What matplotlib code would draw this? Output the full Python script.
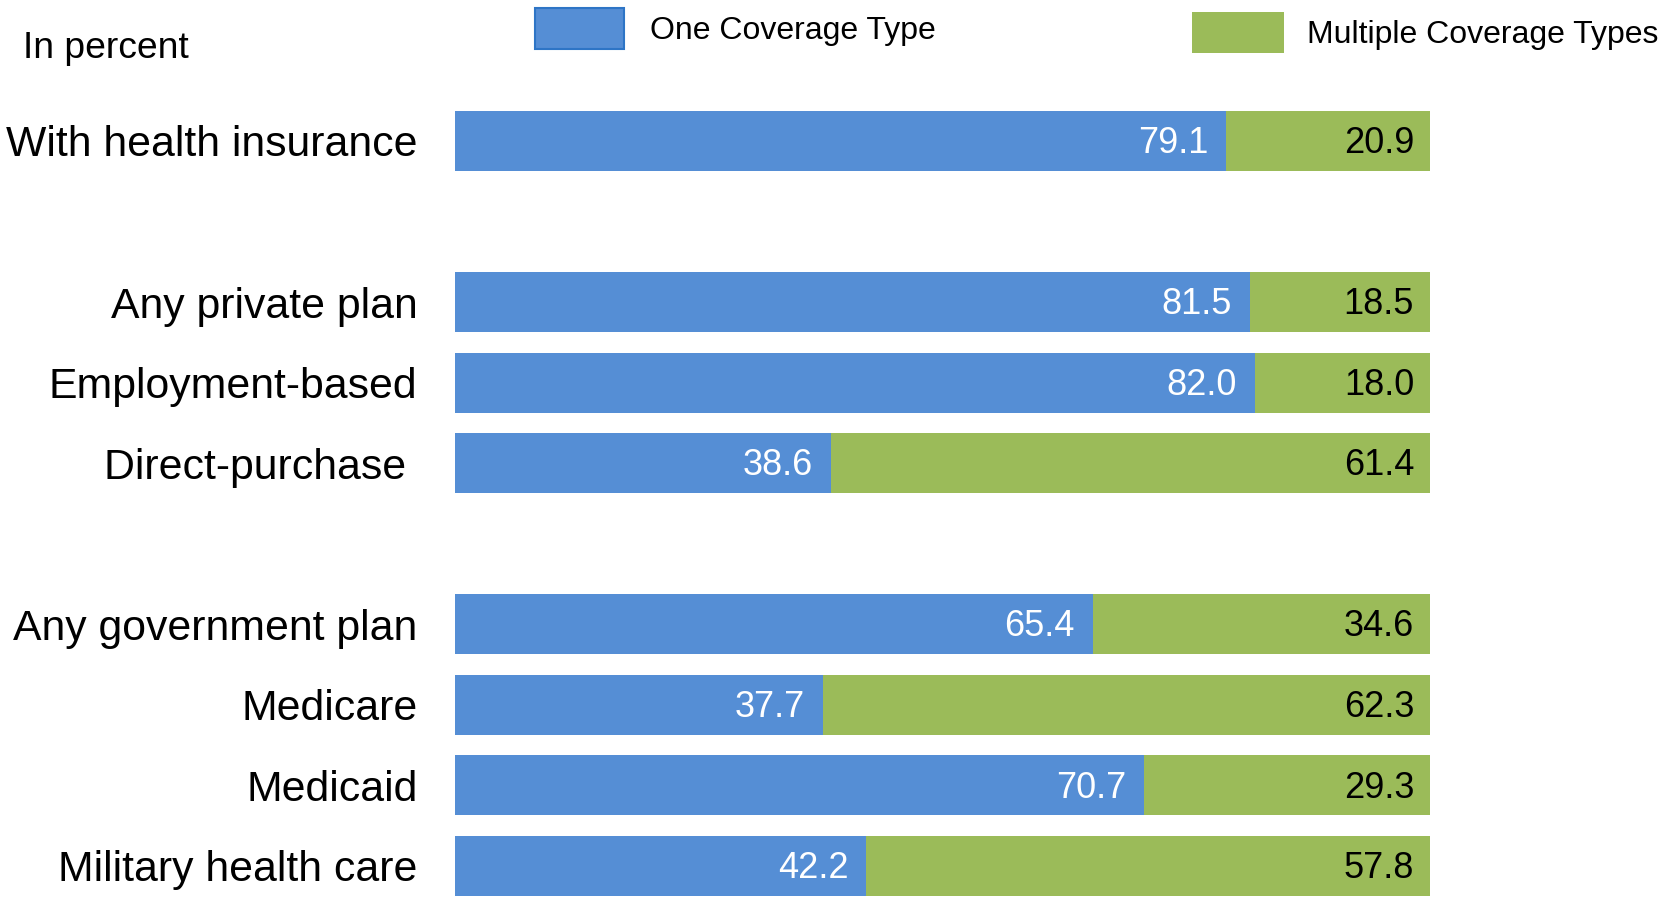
import matplotlib
matplotlib.use("Agg")
import matplotlib.pyplot as plt
from matplotlib.patches import Rectangle

plt.rcParams['font.family'] = ['Liberation Sans', 'DejaVu Sans']

# Data #
categories = ["With health insurance", "Any private plan", "Employment-based",
              "Direct-purchase ", "Any government plan", "Medicare", "Medicaid",
              "Military health care"]
slots = [0, 2, 3, 4, 6, 7, 8, 9]   # gaps between the three groups
one_type = [79.1, 81.5, 82.0, 38.6, 65.4, 37.7, 70.7, 42.2]
multiple_types = [20.9, 18.5, 18.0, 61.4, 34.6, 62.3, 29.3, 57.8]
series_names = ["One Coverage Type", "Multiple Coverage Types"]

blue = "#558ed5"
green = "#9bbb59"

fig = plt.figure(figsize=(16.61, 9.02), dpi=100)
ax = fig.add_axes([455 / 1661, 0, 975 / 1661, 1])

ax.barh(slots, one_type, height=0.745, color=blue, edgecolor="none")
ax.barh(slots, multiple_types, left=one_type, height=0.745, color=green, edgecolor="none")

# Value labels, right aligned near the end of each segment #
for y, a, b in zip(slots, one_type, multiple_types):
    ax.annotate(f"{a:.1f}", xy=(a, y), xytext=(-13, -2), textcoords="offset points",
                ha="right", va="center", color="white", fontsize=26)
    ax.annotate(f"{b:.1f}", xy=(a + b, y), xytext=(-11.5, -2), textcoords="offset points",
                ha="right", va="center", color="black", fontsize=26)

ax.set_xlim(0, 100)
ax.set_ylim(9.45, -1.75)
ax.set_yticks(slots)
ax.set_yticklabels(categories, fontsize=30.8)
ax.tick_params(axis="y", length=0, pad=27)
ax.set_xticks([])
for s in ax.spines.values():
    s.set_visible(False)

# Header text and legend #
W, H = 1661, 902
fig.text(23 / W, 1 - 48.5 / H, "In percent", fontsize=26.8, ha="left", va="center")
fig.patches.append(Rectangle((535 / W, 1 - 49 / H), 89 / W, 40.5 / H, transform=fig.transFigure,
                             facecolor=blue, edgecolor="#2e75c6", linewidth=1.5))
fig.text(650 / W, 1 - 30.6 / H, series_names[0], fontsize=23, ha="left", va="center")
fig.patches.append(Rectangle((1192 / W, 1 - 53 / H), 92 / W, 40.5 / H, transform=fig.transFigure,
                             facecolor=green, edgecolor="none"))
fig.text(1307 / W, 1 - 35 / H, series_names[1], fontsize=23, ha="left", va="center")

fig.savefig("out.png", dpi=100)
